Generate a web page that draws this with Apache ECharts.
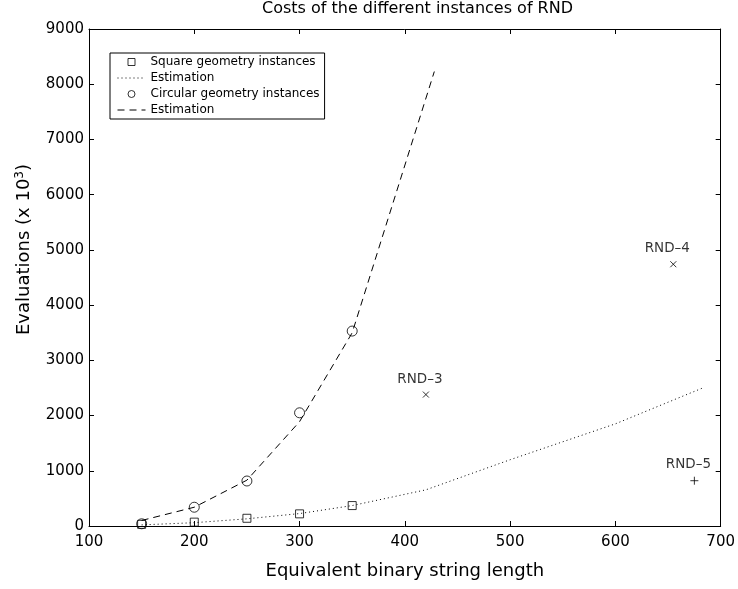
<!DOCTYPE html>
<html>
<head>
<meta charset="utf-8">
<title>Costs of the different instances of RND</title>
<script src="https://cdn.jsdelivr.net/npm/echarts@6/dist/echarts.min.js"></script>
<style>
  html, body { margin: 0; padding: 0; background: #fff; }
  #chart { width: 738px; height: 589px; }
</style>
</head>
<body>
<div id="chart"></div>
<script>
// measured instances
var squareX = [150, 200, 250, 300, 350];
var squareY = [30, 70, 140, 220, 370];
var circleX = [150, 200, 250, 300, 350];
var circleY = [40, 340, 815, 2050, 3530];

// estimations
var squareEstX = [150, 200, 250, 300, 350, 420, 500, 600, 683];
var squareEstY = [20, 60, 130, 225, 370, 655, 1200, 1850, 2500];
var circleEstX = [150, 200, 250, 300, 350, 428];
var circleEstY = [100, 340, 830, 1890, 3500, 8230];

// the other RND instances
var rndNames = ['RND–3', 'RND–4', 'RND–5'];
var rndX = [420, 655, 675];
var rndY = [2380, 4740, 820];

// axis ticks
var xTicks = [100, 200, 300, 400, 500, 600, 700];
var yTicks = [0, 1000, 2000, 3000, 4000, 5000, 6000, 7000, 8000, 9000];

var FONT = 'DejaVu Sans';
var CROSS = 'path://M0,0L10,10M10,0L0,10';
var PLUS = 'path://M5,0L5,10M0,5L10,5';

function pairs(xs, ys) {
  return xs.map(function (x, i) { return [x, ys[i]]; });
}

var chart = echarts.init(document.getElementById('chart'));

var xBase = {
  type: 'value',
  min: xTicks[0],
  max: xTicks[xTicks.length - 1],
  interval: xTicks[1] - xTicks[0],
  splitLine: { show: false },
  axisLine: { show: true, onZero: false, lineStyle: { color: '#000', width: 1 } },
  axisTick: { show: true, inside: true, length: 5, lineStyle: { color: '#000' } }
};
var yBase = {
  type: 'value',
  min: yTicks[0],
  max: yTicks[yTicks.length - 1],
  interval: yTicks[1] - yTicks[0],
  splitLine: { show: false },
  axisLine: { show: true, onZero: false, lineStyle: { color: '#000', width: 1 } },
  axisTick: { show: true, inside: true, length: 5, lineStyle: { color: '#000' } }
};

chart.setOption({
  animation: false,
  backgroundColor: '#fff',
  textStyle: { fontFamily: FONT, color: '#000' },
  title: {
    text: 'Costs of the different instances of RND',
    left: 262,
    top: 1,
    padding: 0,
    textStyle: { fontFamily: FONT, fontSize: 16, fontWeight: 'normal', color: '#000' }
  },
  grid: { left: 89, right: 17, top: 29, bottom: 63 },
  legend: {
    orient: 'vertical',
    left: 110,
    top: 53,
    padding: [2, 5, 2, 7],
    itemWidth: 28,
    itemHeight: 7,
    itemGap: 2,
    borderColor: '#000',
    borderWidth: 1,
    backgroundColor: '#fff',
    selectedMode: false,
    itemStyle: { borderWidth: 1 },
    lineStyle: { width: 1 },
    textStyle: { fontFamily: FONT, fontSize: 12, color: '#000', lineHeight: 14 },
    data: [
      { name: 'Square geometry instances', icon: 'path://M0,0L10,0L10,10L0,10Z' },
      { name: 'Estimation', itemStyle: { opacity: 0 } },
      { name: 'Circular geometry instances', icon: 'circle' },
      { name: 'Estimation ', itemStyle: { opacity: 0 } }
    ]
  },
  xAxis: [
    Object.assign({}, xBase, {
      position: 'bottom',
      axisLabel: { show: true, margin: 9, fontFamily: FONT, fontSize: 15, color: '#000' },
      name: 'Equivalent binary string length',
      nameLocation: 'middle',
      nameGap: 36,
      nameTextStyle: { fontFamily: FONT, fontSize: 18, color: '#000' }
    }),
    Object.assign({}, xBase, { position: 'top', axisLabel: { show: false } })
  ],
  yAxis: [
    Object.assign({}, yBase, {
      position: 'left',
      axisLabel: {
        show: true, margin: 5, fontFamily: FONT, fontSize: 15, color: '#000',
        formatter: function (v) { return String(v); }
      }
    }),
    Object.assign({}, yBase, { position: 'right', axisLabel: { show: false } })
  ],
  graphic: [{
    type: 'text',
    x: 24,
    y: 335,
    rotation: Math.PI / 2,
    style: {
      text: '{a|Evaluations (x 10}{s|3}{a|)}',
      align: 'left',
      verticalAlign: 'middle',
      fill: '#000',
      rich: {
        a: { fontFamily: FONT, fontSize: 18, fill: '#000' },
        s: { fontFamily: FONT, fontSize: 12, fill: '#000', verticalAlign: 'top', padding: [0, 0, 9, 0] }
      }
    }
  }],
  series: [
    {
      name: 'Square geometry instances',
      type: 'scatter',
      symbol: 'rect',
      symbolSize: 8,
      itemStyle: { color: 'transparent', borderColor: '#000', borderWidth: 1 },
      data: pairs(squareX, squareY),
      z: 3
    },
    {
      name: 'Estimation',
      type: 'line',
      symbol: 'none',
      itemStyle: { color: 'transparent' },
      lineStyle: { color: '#000', width: 1, type: [1, 3] },
      data: pairs(squareEstX, squareEstY),
      z: 2
    },
    {
      name: 'Circular geometry instances',
      type: 'scatter',
      symbol: 'circle',
      symbolSize: 10,
      itemStyle: { color: 'transparent', borderColor: '#000', borderWidth: 1 },
      data: pairs(circleX, circleY),
      z: 3
    },
    {
      name: 'Estimation ',
      type: 'line',
      symbol: 'none',
      itemStyle: { color: 'transparent' },
      lineStyle: { color: '#000', width: 1, type: [7, 5] },
      data: pairs(circleEstX, circleEstY),
      z: 2
    },
    {
      name: 'RND',
      type: 'scatter',
      symbol: function (value, params) {
        return params.dataIndex === 2 ? PLUS : CROSS;
      },
      symbolSize: function (value, params) {
        return params.dataIndex === 2 ? 8 : 6;
      },
      itemStyle: { color: 'none', borderColor: '#000', borderWidth: 1 },
      label: {
        show: true,
        position: 'top',
        distance: 3,
        offset: [-6, 0],
        formatter: function (p) { return p.name; },
        fontFamily: FONT,
        fontSize: 13.5,
        color: '#000',
        textBorderWidth: 0
      },
      data: rndNames.map(function (n, i) { return { name: n, value: [rndX[i], rndY[i]] }; }),
      z: 3
    }
  ]
});
</script>
</body>
</html>
